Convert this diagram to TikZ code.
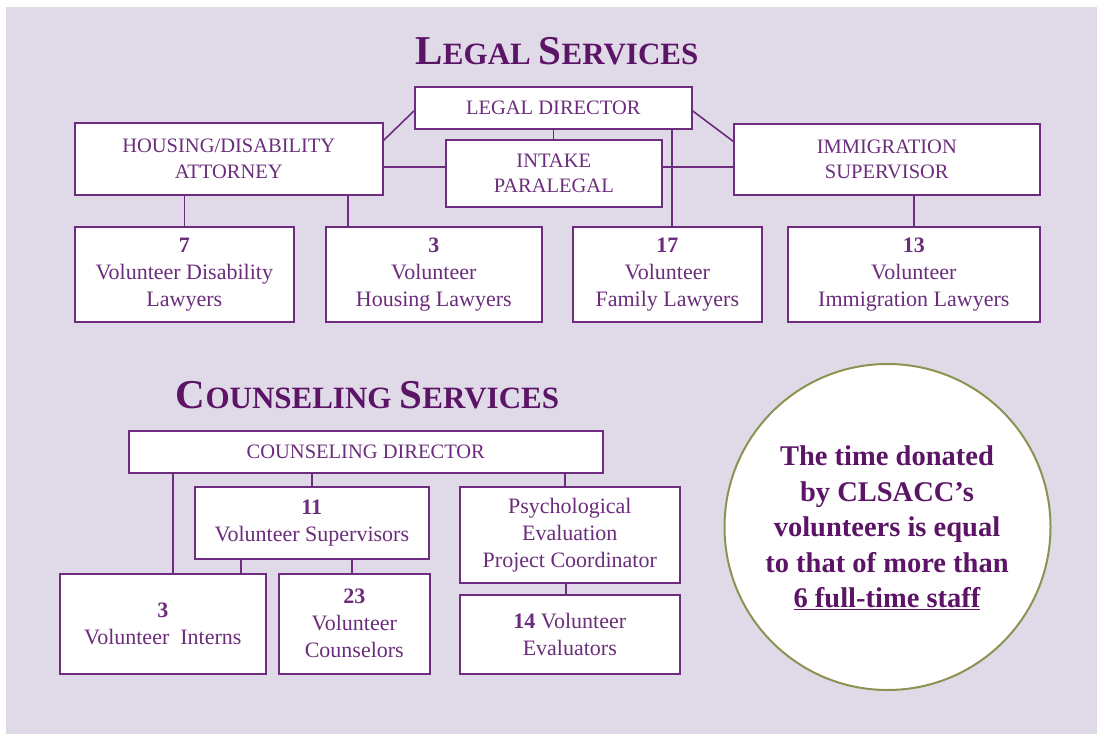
\documentclass[tikz,border=0pt]{standalone}
\usepackage{fontspec}
\usetikzlibrary{calc}
\setmainfont{Liberation Serif}
\definecolor{bgc}{HTML}{E0DAE8}
\definecolor{linec}{HTML}{6E2C80}
\definecolor{txtc}{HTML}{6B2D7B}
\definecolor{titlec}{HTML}{5C1466}
\definecolor{olivec}{HTML}{8C9351}
\newcommand{\capsfont}{\fontsize{20.5}{25.5}\selectfont}
\newcommand{\bodyfont}{\fontsize{22}{27}\selectfont}
\newcommand{\BigL}[1]{{\fontsize{41}{42}\selectfont #1}}
\newcommand{\SmallL}[1]{{\fontsize{31}{42}\selectfont #1}}
\newcommand{\TitleGap}{\hspace{8pt}}
\pgfdeclarelayer{backlayer}
\pgfdeclarelayer{connlayer}
\pgfsetlayers{backlayer,connlayer,main}
\tikzset{
  box/.style={draw=linec, line width=1.6pt, fill=white, inner sep=0pt, align=center,
    text=txtc, anchor=north west},
  capsbox/.style={box, font=\capsfont},
  bodybox/.style={box, font=\bodyfont},
  conn/.style={draw=linec, line width=1.6pt},
  titlestyle/.style={text=titlec, font=\bfseries, anchor=base, inner sep=0pt}
}
\begin{document}
\begin{tikzpicture}[x=1pt,y=-1pt]
\useasboundingbox (0,0) rectangle (1097,734);
\begin{pgfonlayer}{backlayer}
\fill[bgc] (6,7) rectangle (1097,734);
\end{pgfonlayer}

% titles
\node[titlestyle] (lt) at (557,64) {\BigL{L}\SmallL{EGAL}\TitleGap\BigL{S}\SmallL{ERVICES}};
\node[titlestyle] (ct) at (367.5,408) {\BigL{C}\SmallL{OUNSELING}\TitleGap\BigL{S}\SmallL{ERVICES}};

% helper coordinates
\coordinate (hline) at (0,167);
\coordinate (vfam) at (672,0);
\coordinate (vhou) at (348,0);
\coordinate (vint) at (173,0);
\coordinate (vsi) at (241,0);
\coordinate (vsc) at (352,0);
\coordinate (vps) at (565,0);
\coordinate (vev) at (566,0);

% legal boxes
\node[capsbox, minimum width=277pt, minimum height=42pt] (ld) at (414,86) {LEGAL DIRECTOR};
\node[capsbox, minimum width=308pt, minimum height=72pt] (hd) at (74,122) {HOUSING/DISABILITY\\ATTORNEY};
\node[capsbox, minimum width=216pt, minimum height=67pt] (ip) at (445,139) {INTAKE\\PARALEGAL};
\node[capsbox, minimum width=306pt, minimum height=71pt] (im) at (733,123) {IMMIGRATION\\SUPERVISOR};
\node[bodybox, minimum width=219pt, minimum height=95pt] (dis) at (74,226) {\textbf{7}\\Volunteer Disability\\Lawyers};
\node[bodybox, minimum width=216pt, minimum height=95pt] (hou) at (325,226) {\textbf{3}\\Volunteer\\Housing Lawyers};
\node[bodybox, minimum width=189pt, minimum height=95pt] (fam) at (572,226) {\textbf{17}\\Volunteer\\Family Lawyers};
\node[bodybox, minimum width=252pt, minimum height=95pt] (imm) at (787,226) {\textbf{13}\\Volunteer\\Immigration Lawyers};

% counseling boxes
\node[capsbox, minimum width=474pt, minimum height=42pt] (cd) at (128,430) {COUNSELING DIRECTOR};
\node[bodybox, minimum width=234pt, minimum height=72pt] (sup) at (194,486) {\textbf{11}\\Volunteer Supervisors};
\node[bodybox, minimum width=206pt, minimum height=100pt] (int) at (59,573) {\textbf{3}\\Volunteer\ \ Interns};
\node[bodybox, minimum width=151pt, minimum height=100pt] (cou) at (278,573) {\textbf{23}\\Volunteer\\Counselors};
\node[bodybox, minimum width=220pt, minimum height=96pt] (psy) at (459,486) {Psychological\\Evaluation\\Project Coordinator};
\node[bodybox, minimum width=220pt, minimum height=79pt] (eva) at (459,594) {\textbf{14} Volunteer\\Evaluators};

% circle
\node[circle, draw=olivec, line width=2pt, fill=white, minimum size=326pt, inner sep=0pt] (circ) at (887.5,527) {};
\node[text=titlec, font=\fontsize{28.5}{35.5}\selectfont\bfseries, align=center, inner sep=0pt] (ctext) at (887,528)
  {The time donated\\by CLSACC’s\\volunteers is equal\\to that of more than\\\underline{6 full-time staff}};

% connectors (behind boxes)
\begin{pgfonlayer}{connlayer}
\draw[conn] ($(ld.north west)!0.57!(ld.south west)$) -- ($(hd.north east)!0.25!(hd.south east)$);
\draw[conn] ($(ld.north east)!0.57!(ld.south east)$) -- ($(im.north west)!0.25!(im.south west)$);
\draw[conn] (ld.south) -- (ip.north -| ld.south);
\draw[conn] (hd.east |- hline) -- (im.west |- hline);
\draw[conn] (ld.south -| vfam) -- (fam.north -| vfam);
\draw[conn] (hd.south -| dis.north) -- (dis.north);
\draw[conn] (hd.south -| vhou) -- (hou.north -| vhou);
\draw[conn] (im.south -| imm.north) -- (imm.north);
\draw[conn] (cd.south -| vint) -- (int.north -| vint);
\draw[conn] (cd.south -| sup.north) -- (sup.north);
\draw[conn] (cd.south -| vps) -- (psy.north -| vps);
\draw[conn] (sup.south -| vsi) -- (int.north -| vsi);
\draw[conn] (sup.south -| vsc) -- (cou.north -| vsc);
\draw[conn] (psy.south -| vev) -- (eva.north -| vev);
\end{pgfonlayer}
\end{tikzpicture}
\end{document}
